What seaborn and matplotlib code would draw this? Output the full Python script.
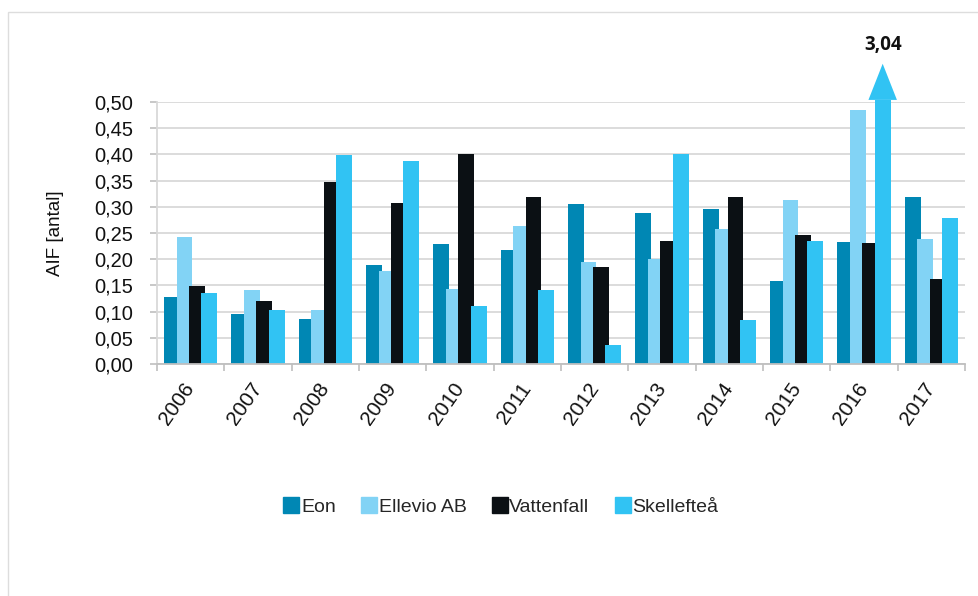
import numpy as np
import pandas as pd
import seaborn as sns
import matplotlib
matplotlib.use("Agg")
import matplotlib.pyplot as plt
from matplotlib.patches import Rectangle, Polygon
from matplotlib.lines import Line2D
from matplotlib.ticker import FuncFormatter, MultipleLocator

# ---- data ----
years = ["2006", "2007", "2008", "2009", "2010", "2011",
         "2012", "2013", "2014", "2015", "2016", "2017"]
companies = ["Eon", "Ellevio AB", "Vattenfall", "Skellefteå"]
eon        = [0.128, 0.095, 0.086, 0.188, 0.229, 0.218, 0.306, 0.289, 0.296, 0.158, 0.233, 0.318]
ellevio    = [0.243, 0.141, 0.104, 0.177, 0.143, 0.264, 0.194, 0.200, 0.257, 0.313, 0.484, 0.238]
vattenfall = [0.148, 0.121, 0.348, 0.307, 0.401, 0.318, 0.185, 0.234, 0.318, 0.246, 0.230, 0.162]
skelleftea = [0.136, 0.104, 0.398, 0.387, 0.111, 0.141, 0.037, 0.401, 0.084, 0.235, 3.04, 0.278]
colors = ["#0087B4", "#82D3F5", "#0B1014", "#31C3F3"]
y_max = 0.50
y_label = "AIF [antal]"

series = [eon, ellevio, vattenfall, skelleftea]
df = pd.DataFrame({
    "year": years * 4,
    "company": np.repeat(companies, len(years)),
    "aif": np.concatenate(series),
})

sns.set_theme(style="white")
plt.rcParams["font.family"] = ["Liberation Sans", "DejaVu Sans"]

fig = plt.figure(figsize=(9.79, 5.96), dpi=100)
ax = fig.add_axes([157/979, 1-364/596, (965-157)/979, (364-102)/596])

sns.barplot(data=df, x="year", y="aif", hue="company", order=years,
            hue_order=companies, palette=colors, saturation=1, width=0.74,
            errorbar=None, legend=False, ax=ax, linewidth=0)

# overlap bars slightly like the original
for p in ax.patches:
    w = p.get_width()
    p.set_x(p.get_x() - w * 0.135)
    p.set_width(w * 1.27)

ax.set_ylim(0, y_max)
ax.set_xlim(-0.5, len(years) - 0.5)
ax.yaxis.set_major_locator(MultipleLocator(0.05))
ax.yaxis.set_major_formatter(FuncFormatter(lambda v, _: f"{v:.2f}".replace(".", ",")))
ax.grid(axis="y", color="#D9D9D9", linewidth=1.3)
ax.set_axisbelow(True)
for s in ["top", "right"]:
    ax.spines[s].set_visible(False)
ax.spines["left"].set_color("#D9D9D9")
ax.spines["bottom"].set_color("#BFBFBF")
ax.spines["left"].set_linewidth(1.3)
ax.spines["bottom"].set_linewidth(1.3)

ax.tick_params(axis="y", which="major", length=5, color="#BFBFBF", width=1.2,
               labelsize=14.5, pad=12, left=True, labelcolor="#111111")
# x: labels at centres, tick marks at group boundaries
ax.set_xticks(range(len(years)))
ax.set_xticks(np.arange(-0.5, len(years), 1.0), minor=True)
ax.tick_params(axis="x", which="major", length=0, pad=15, labelsize=15, labelcolor="#111111")
ax.tick_params(axis="x", which="minor", length=5, color="#BFBFBF", width=1.2, bottom=True)
plt.setp(ax.get_xticklabels(), rotation=55, ha="right", va="center", rotation_mode="anchor")
ax.set_xlabel("")
ax.set_ylabel(y_label, fontsize=13.5, labelpad=22, color="#111111")

# arrow + label for the out-of-range bar(s)
n = len(years)
for k, vals in enumerate(series):
    for i, v in enumerate(vals):
        if v > y_max:
            p = ax.patches[k * n + i]
            cx = p.get_x() + p.get_width() / 2
            hw = p.get_width() * 0.9
            ax.add_patch(Rectangle((p.get_x(), y_max - 0.002), p.get_width(), 0.006,
                                   color=colors[k], clip_on=False, lw=0))
            ax.add_patch(Polygon([[cx - hw, y_max + 0.004], [cx + hw, y_max + 0.004],
                                  [cx, y_max + 0.073]], closed=True,
                                 color=colors[k], clip_on=False, lw=0))
            ax.text(cx, y_max + 0.108, f"{v:.2f}".replace(".", ","), ha="center",
                    va="center", fontsize=13.5, fontweight="bold",
                    family=["Open Sans", "DejaVu Sans"], color="#111111")

# legend
handles = [Line2D([], [], marker="s", linestyle="", markersize=12,
                  markerfacecolor=c, markeredgecolor=c) for c in colors]
fig.legend(handles, companies, loc="center", bbox_to_anchor=(500/979, 1-507/596),
           ncol=4, frameon=False, fontsize=14, handletextpad=0.0,
           columnspacing=1.2, handlelength=1.0)

# outer frame
fig.add_artist(Rectangle((8/979, -0.5), 2, 0.5 + (1 - 12/596), transform=fig.transFigure,
                         fill=False, edgecolor="#DDDDDD", linewidth=1.0, clip_on=False))

fig.savefig("out.png", dpi=100)
